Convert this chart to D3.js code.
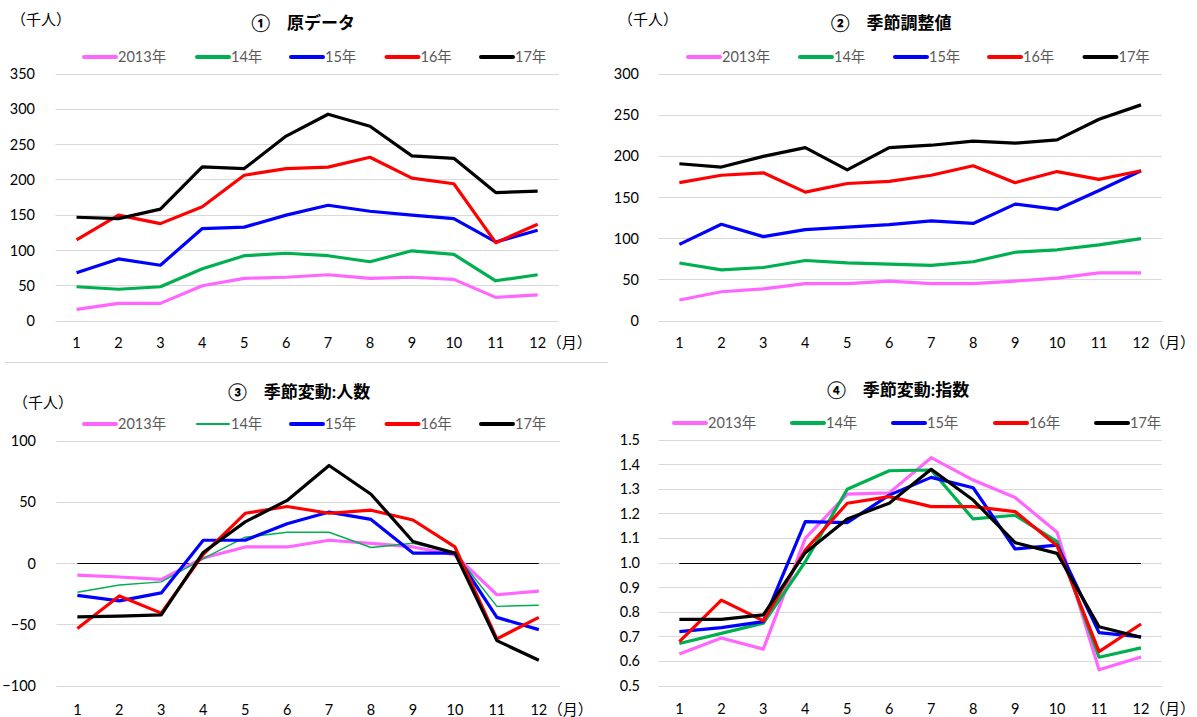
<!DOCTYPE html>
<html>
<head>
<meta charset="utf-8">
<script src="https://cdn.jsdelivr.net/npm/d3@7"></script>
<style>
  body { margin: 0; background: #fff; }
  svg { font-family: "Lato", "Noto Sans CJK JP", sans-serif; }
  .tick-label { font-size: 14.5px; fill: #000; }
  .legend text { font-size: 14.5px; fill: #595959; }
  .title { font-size: 17px; font-weight: bold; fill: #000; }
  .unit { font-size: 15px; fill: #000; }
</style>
</head>
<body>
<svg id="chart" width="1197" height="717"></svg>
<script>
// 月
var months = [1, 2, 3, 4, 5, 6, 7, 8, 9, 10, 11, 12];
var seriesNames = ['2013年', '14年', '15年', '16年', '17年'];
var colors = ['#ff66ff', '#00b050', '#0000ff', '#ff0000', '#000000'];

// ① 原データ（千人）
var raw2013 = [16.5, 25, 25, 50, 60.5, 62, 65.5, 60.5, 62, 59, 33.5, 37];
var raw2014 = [48.5, 45, 48.5, 74, 92.5, 96, 92.5, 84, 99.5, 94.5, 57, 65.5];
var raw2015 = [68.5, 88, 79, 131, 133, 150, 164, 155.5, 150, 145, 112, 128.5];
var raw2016 = [115, 150, 138, 162, 206.5, 216, 218, 232, 202.5, 194.5, 111, 137];
var raw2017 = [147, 145, 158.5, 218.5, 216, 262, 293, 276, 234, 230.5, 182, 184];

// ② 季節調整値（千人）
var adj2013 = [25.5, 35.5, 39, 45.5, 45.5, 48.5, 45.5, 45.5, 48.5, 52, 58.5, 58.5];
var adj2014 = [70.5, 62, 65, 73.5, 70.5, 69, 67.5, 72, 83.5, 86.5, 92.5, 100];
var adj2015 = [93, 117.5, 102.5, 111, 114, 117, 121.5, 118.5, 142, 135.5, 158.5, 182.5];
var adj2016 = [168, 177, 180, 156.5, 167, 169.5, 177, 188.5, 168, 181.5, 172, 182.5];
var adj2017 = [191, 187, 200, 210.5, 183.5, 210.5, 213.5, 218.5, 216, 220, 245, 262.5];

// ③ 季節変動：人数（千人）
var cnt2013 = [-9.5, -11, -13, 4.5, 13.5, 13.5, 19, 16.5, 13.5, 7, -25.5, -22.5];
var cnt2014 = [-23.5, -17.5, -15, 4, 21.5, 25.5, 25.5, 13, 16.5, 8.5, -35, -34];
var cnt2015 = [-26, -30.5, -24, 19, 19, 32.5, 42, 36, 8.5, 8.5, -44, -54];
var cnt2016 = [-53, -26.5, -40.5, 7.5, 41, 46.5, 41, 43.5, 35.5, 13.5, -61.5, -44];
var cnt2017 = [-43.5, -43, -42, 9, 34, 51.5, 80, 56.5, 18, 8.5, -63, -79];

// ④ 季節変動：指数
var idx2013 = [0.63, 0.695, 0.65, 1.1, 1.28, 1.285, 1.428, 1.337, 1.266, 1.125, 0.566, 0.618];
var idx2014 = [0.673, 0.714, 0.755, 1.005, 1.30, 1.375, 1.378, 1.179, 1.194, 1.087, 0.617, 0.655];
var idx2015 = [0.721, 0.737, 0.762, 1.168, 1.164, 1.276, 1.348, 1.306, 1.057, 1.073, 0.717, 0.70];
var idx2016 = [0.68, 0.849, 0.765, 1.053, 1.243, 1.27, 1.229, 1.229, 1.209, 1.07, 0.64, 0.752];
var idx2017 = [0.771, 0.771, 0.789, 1.042, 1.179, 1.243, 1.381, 1.256, 1.083, 1.039, 0.741, 0.698];

var svg = d3.select('#chart');

// 上下の区切り線
svg.append('line')
  .attr('x1', 5).attr('x2', 608)
  .attr('y1', 362.5).attr('y2', 362.5)
  .attr('stroke', '#d9d9d9').attr('stroke-width', 1);

var panels = [
  {
    title: '①　原データ', titleX: 303, titleY: 23,
    unit: '（千人）', unitX: 11, unitY: 20,
    left: 55.6, right: 558.6, top: 74, bottom: 321,
    domain: [0, 350], step: 50, fmt: d3.format('d'), labelX: 35,
    xLabelY: 343, legendY: 57, legendX: [84, 197, 291, 386.5, 481],
    data: [raw2013, raw2014, raw2015, raw2016, raw2017]
  },
  {
    title: '②　季節調整値', titleX: 891, titleY: 23,
    unit: '（千人）', unitX: 618, unitY: 20,
    left: 658.4, right: 1162, top: 74, bottom: 321,
    domain: [0, 300], step: 50, fmt: d3.format('d'), labelX: 639,
    xLabelY: 343, legendY: 57, legendX: [688, 800, 895, 989, 1084.5],
    data: [adj2013, adj2014, adj2015, adj2016, adj2017]
  },
  {
    title: '③　季節変動:人数', titleX: 299, titleY: 392,
    unit: '（千人）', unitX: 13, unitY: 403,
    left: 56.4, right: 559.8, top: 441, bottom: 686,
    domain: [-100, 100], step: 50, fmt: d3.format('d'), labelX: 36,
    xLabelY: 710, legendY: 424, legendX: [84, 197, 291, 386.5, 481],
    data: [cnt2013, cnt2014, cnt2015, cnt2016, cnt2017],
    baseline: 0, thin: 1
  },
  {
    title: '④　季節変動:指数', titleX: 898, titleY: 390,
    unit: null,
    left: 658.4, right: 1162, top: 440, bottom: 686,
    domain: [0.5, 1.5], step: 0.1, fmt: d3.format('.1f'), labelX: 640,
    xLabelY: 709, legendY: 423, legendX: [674, 792, 893, 995, 1096],
    data: [idx2013, idx2014, idx2015, idx2016, idx2017],
    baseline: 1.0
  }
];

panels.forEach(drawPanel);

function drawPanel(p) {
  var g = svg.append('g');

  var x = d3.scaleBand().domain(months).range([p.left, p.right]);
  var y = d3.scaleLinear().domain(p.domain).range([p.bottom, p.top]);
  var xc = function (m) { return x(m) + x.bandwidth() / 2; };
  var crisp = function (v) { return Math.floor(v) + 0.5; };

  var ticks = d3.range(p.domain[0], p.domain[1] + p.step / 2, p.step);

  // グリッド
  g.append('g').selectAll('line')
    .data(ticks)
    .enter().append('line')
    .attr('x1', p.left).attr('x2', p.right)
    .attr('y1', function (d) { return crisp(y(d)); })
    .attr('y2', function (d) { return crisp(y(d)); })
    .attr('stroke', '#d9d9d9').attr('stroke-width', 1);

  // 縦軸ラベル
  g.append('g').selectAll('text')
    .data(ticks)
    .enter().append('text')
    .attr('class', 'tick-label')
    .attr('x', p.labelX)
    .attr('y', function (d) { return y(d); })
    .attr('dy', '0.35em')
    .attr('text-anchor', 'end')
    .text(p.fmt);

  // 横軸ラベル
  g.append('g').selectAll('text')
    .data(months)
    .enter().append('text')
    .attr('class', 'tick-label')
    .attr('x', xc)
    .attr('y', p.xLabelY)
    .attr('dy', '0.35em')
    .attr('text-anchor', 'middle')
    .text(String);

  // 全角括弧ごと右端に収める
  g.append('text')
    .attr('class', 'unit')
    .attr('x', xc(months[months.length - 1]) + 9)
    .attr('y', p.xLabelY)
    .attr('dy', '0.35em')
    .text('（月）');

  if (p.unit) {
    g.append('text')
      .attr('class', 'unit')
      .attr('x', p.unitX)
      .attr('y', p.unitY)
      .attr('dy', '0.35em')
      .text(p.unit);
  }

  g.append('text')
    .attr('class', 'title')
    .attr('x', p.titleX)
    .attr('y', p.titleY)
    .attr('dy', '0.35em')
    .attr('text-anchor', 'middle')
    .text(p.title);

  // 基準線
  if (p.baseline !== undefined) {
    g.append('line')
      .attr('x1', xc(months[0])).attr('x2', xc(months[months.length - 1]))
      .attr('y1', crisp(y(p.baseline))).attr('y2', crisp(y(p.baseline)))
      .attr('stroke', '#000').attr('stroke-width', 1);
  }

  var line = d3.line()
    .x(function (d, i) { return xc(months[i]); })
    .y(function (d) { return y(d); });

  var widthOf = function (i) { return p.thin === i ? 1.5 : 3.2; };

  g.append('g').selectAll('path')
    .data(p.data)
    .enter().append('path')
    .attr('d', line)
    .attr('fill', 'none')
    .attr('stroke', function (d, i) { return colors[i]; })
    .attr('stroke-width', function (d, i) { return widthOf(i); })
    .attr('stroke-linejoin', 'round');

  // 凡例
  var legend = g.append('g').attr('class', 'legend')
    .selectAll('g')
    .data(seriesNames)
    .enter().append('g')
    .attr('transform', function (d, i) { return 'translate(' + p.legendX[i] + ',' + p.legendY + ')'; });

  legend.append('line')
    .attr('x1', 0).attr('x2', 32)
    .attr('stroke', function (d, i) { return colors[i]; })
    .attr('stroke-width', function (d, i) { return p.thin === i ? 2 : 4; })
    .attr('stroke-linecap', 'round');

  legend.append('text')
    .attr('x', 34)
    .attr('dy', '0.35em')
    .text(String);
}
</script>
</body>
</html>
